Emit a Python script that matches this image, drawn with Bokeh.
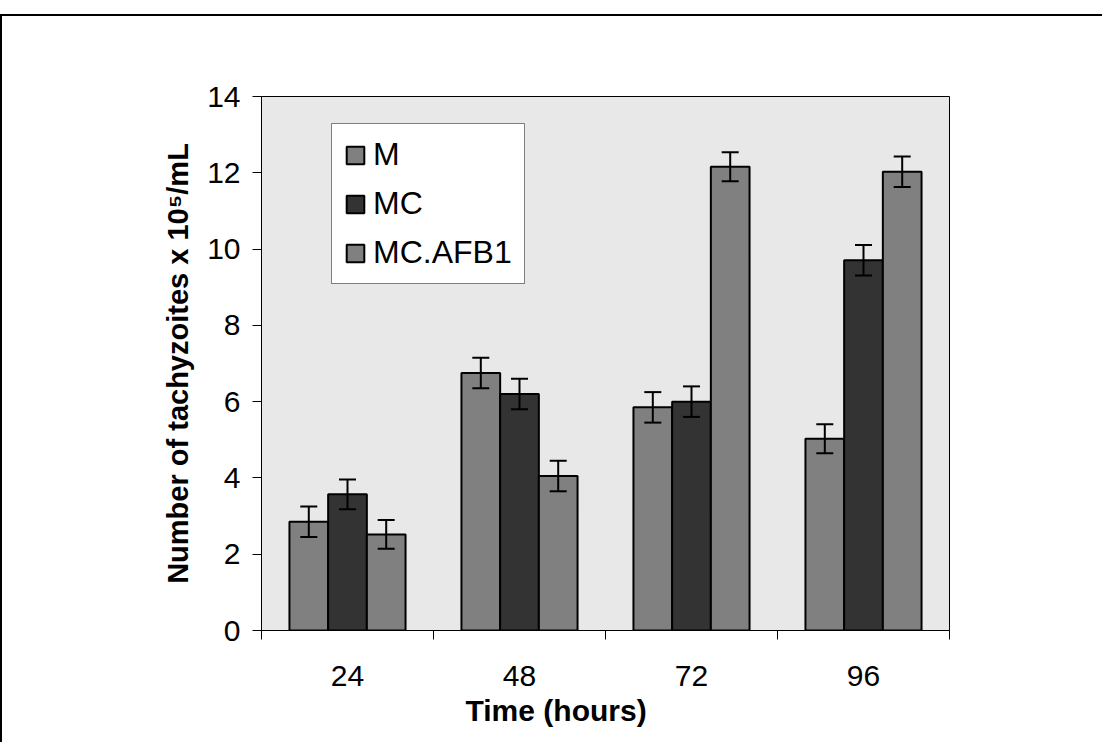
from bokeh.plotting import figure
from bokeh.models import (Range1d, FixedTicker, Whisker, ColumnDataSource, Title,
                          TeeHead)
from bokeh.embed import file_html
from bokeh.resources import INLINE

# ---- data ----
times = ["24", "48", "72", "96"]
series_names = ["M", "MC", "MC.AFB1"]
m_vals = [2.85, 6.75, 5.85, 5.03]
mc_vals = [3.57, 6.20, 6.00, 9.71]
afb_vals = [2.52, 4.05, 12.16, 12.03]
m_err = [0.40, 0.40, 0.40, 0.38]
mc_err = [0.39, 0.40, 0.40, 0.40]
afb_err = [0.38, 0.40, 0.38, 0.40]
y_ticks = [0, 2, 4, 6, 8, 10, 12, 14]

colors = ["#808080", "#333333", "#808080"]
FONT = "Liberation Sans"

p = figure(width=1102, height=728, output_backend="svg", toolbar_location=None,
           x_range=Range1d(0, 4), y_range=Range1d(0, 14),
           min_border_left=259, min_border_top=80, min_border_right=155,
           min_border_bottom=114)
p.styles = {"margin-top": "14px",
            "border-top": "2px solid black", "border-left": "2px solid black"}

p.background_fill_color = "#e8e8e8"
p.border_fill_color = "white"
p.outline_line_color = "black"
p.outline_line_width = 1
p.xgrid.visible = False
p.ygrid.visible = False

centers = [i + 0.5 for i in range(len(times))]
bw = 0.225
offsets = [-bw, 0.0, bw]
all_vals = [m_vals, mc_vals, afb_vals]
all_errs = [m_err, mc_err, afb_err]

for name, vals, errs, off, col in zip(series_names, all_vals, all_errs, offsets, colors):
    xs = [c + off for c in centers]
    src = ColumnDataSource(dict(x=xs, top=vals,
                                upper=[v + e for v, e in zip(vals, errs)],
                                lower=[v - e for v, e in zip(vals, errs)]))
    p.vbar(x="x", top="top", bottom=0, width=bw, source=src, fill_color=col,
           line_color="black", line_width=2, legend_label=name)
    w = Whisker(base="x", upper="upper", lower="lower", source=src,
                line_color="black", line_width=2, level="annotation",
                upper_head=TeeHead(size=17, line_width=2, line_color="black"),
                lower_head=TeeHead(size=17, line_width=2, line_color="black"))
    p.add_layout(w)

# x axis: labels at category centres, ticks at boundaries
xa = p.xaxis[0]
xa.ticker = FixedTicker(ticks=centers, minor_ticks=[0, 1, 2, 3, 4])
xa.major_label_overrides = {c: t for c, t in zip(centers, times)}
xa.major_tick_out = 0
xa.major_tick_in = 0
xa.minor_tick_out = 9
xa.minor_tick_in = 0
xa.minor_tick_line_color = "black"
xa.axis_line_color = "black"
xa.major_label_standoff = 26
xa.major_label_text_font = FONT
xa.major_label_text_font_size = "30px"
xa.major_label_text_color = "black"

ya = p.yaxis[0]
ya.ticker = FixedTicker(ticks=y_ticks, minor_ticks=[])
ya.major_tick_out = 9
ya.major_tick_in = 0
ya.major_tick_line_color = "black"
ya.axis_line_color = "black"
ya.major_label_standoff = 12
ya.major_label_text_font = FONT
ya.major_label_text_font_size = "30px"
ya.major_label_text_color = "black"
ya.axis_label = "Number of tachyzoites x 10\u2075/mL"
ya.axis_label_text_font = FONT
ya.axis_label_text_font_size = "29px"
ya.axis_label_text_font_style = "bold"
ya.axis_label_text_color = "black"
ya.axis_label_standoff = 10

xt = Title(text="Time (hours)", align="left", offset=204, standoff=7,
           text_font=FONT, text_font_size="30px", text_font_style="bold",
           text_color="black")
p.add_layout(xt, "below")

lg = p.legend[0]
lg.location = (70, 346)
lg.margin = 0
lg.padding = 12
lg.spacing = 12
lg.glyph_width = 22
lg.glyph_height = 22
lg.label_height = 36
lg.label_standoff = 7
lg.label_text_font = FONT
lg.label_text_font_size = "32px"
lg.label_text_color = "black"
lg.border_line_color = "black"
lg.border_line_width = 1
lg.background_fill_color = "white"
lg.background_fill_alpha = 1.0

open("out.html", "w").write(file_html(p, INLINE))
